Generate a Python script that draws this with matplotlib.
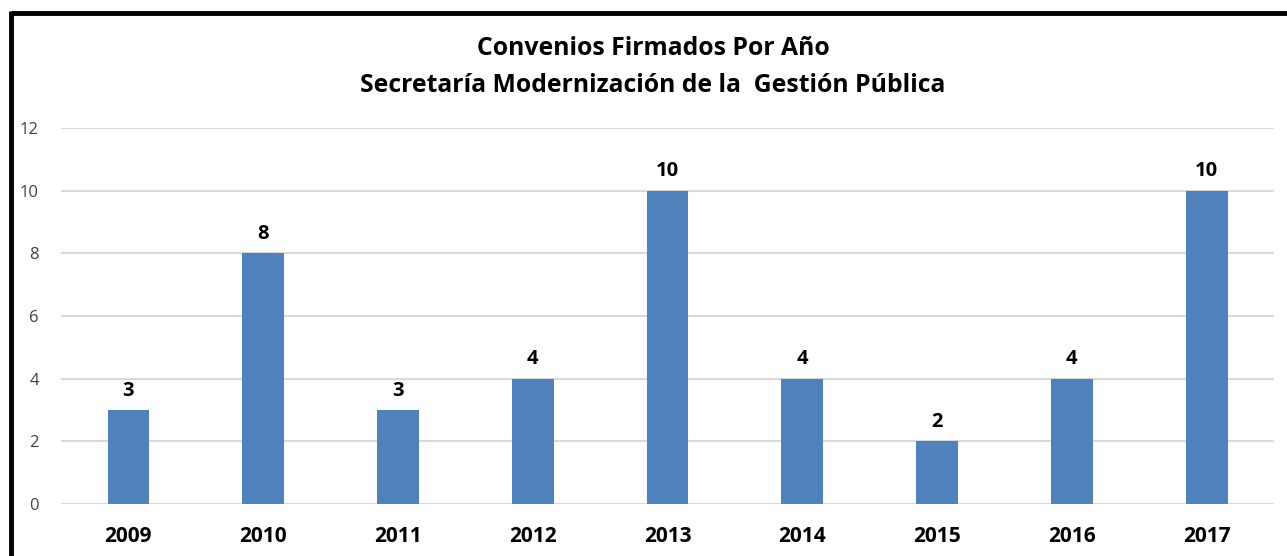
import matplotlib.pyplot as plt
from matplotlib.lines import Line2D

years = ['2009', '2010', '2011', '2012', '2013', '2014', '2015', '2016', '2017']
convenios = [3, 8, 3, 4, 10, 4, 2, 4, 10]
yticks = [0, 2, 4, 6, 8, 10, 12]

plt.rcParams['font.family'] = ['Open Sans', 'DejaVu Sans']

fig = plt.figure(figsize=(12.87, 5.56), dpi=100)
ax = fig.add_axes([0.0474, 0.0935, 0.9425, 0.6763])

x = range(len(years))
bars = ax.bar(x, convenios, width=0.31, color='#4f81bd', zorder=3)
for b, v in zip(bars, convenios):
    ax.text(b.get_x() + b.get_width() / 2, v + 0.3, str(v), ha='center', va='bottom',
            fontsize=14.5, fontweight='bold', color='black')

ax.set_xlim(-0.5, len(years) - 0.5)
ax.set_ylim(0, 12)
ax.set_yticks(yticks)
ax.set_xticks(list(x))
ax.set_xticklabels(years, fontsize=15, fontweight='bold')
ax.tick_params(axis='y', labelsize=12, labelcolor='#404040', length=0, pad=16)
ax.tick_params(axis='x', length=0, pad=16)
ax.grid(axis='y', color='#d9d9d9', linewidth=1.5, zorder=0)
for s in ax.spines.values():
    s.set_visible(False)

fig.text(0.5075, 0.913, 'Convenios Firmados Por Año', ha='center', va='center',
         fontsize=17.8, fontweight='bold')
fig.text(0.5075, 0.846, 'Secretaría Modernización de la  Gestión Pública', ha='center',
         va='center', fontsize=17.8, fontweight='bold')

# black frame on top and left
fig.add_artist(Line2D([0.0082, 1.0], [0.9766, 0.9766], color='black', linewidth=3.5,
                      transform=fig.transFigure, solid_capstyle='butt'))
fig.add_artist(Line2D([0.0082, 0.0082], [0.0, 0.98], color='black', linewidth=3.5,
                      transform=fig.transFigure, solid_capstyle='butt'))

fig.savefig('out.png', dpi=100)
